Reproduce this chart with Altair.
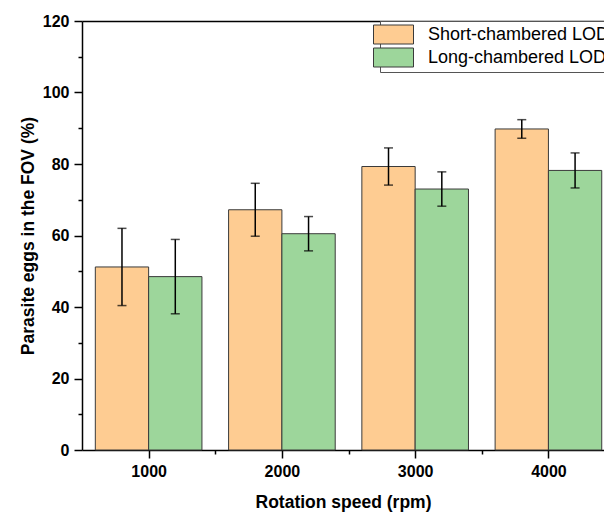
import altair as alt
import pandas as pd

rpm = [1000, 2000, 3000, 4000]
series = ["Short-chambered LOD", "Long-chambered LOD"]
short_mean = [51.2, 67.2, 79.3, 89.8]
short_sd = [10.8, 7.4, 5.2, 2.6]
long_mean = [48.5, 60.5, 73.0, 78.2]
long_sd = [10.4, 4.8, 4.8, 4.9]
colors = ["#FECC92", "#9DD69B"]

rows = []
for i, r in enumerate(rpm):
    rows.append({"rpm": r, "series": series[0], "order": 0, "mean": short_mean[i], "sd": short_sd[i]})
    rows.append({"rpm": r, "series": series[1], "order": 1, "mean": long_mean[i], "sd": long_sd[i]})
df = pd.DataFrame(rows)

FONT = "Liberation Sans"
YTITLE = "Parasite eggs in the FOV (%)"
xscale = alt.Scale(domain=[500, 4417], nice=False, zero=False)
yscale = alt.Scale(domain=[0, 120], nice=False)

base = alt.Chart(df).transform_calculate(
    x0="datum.order === 0 ? datum.rpm - 400 : datum.rpm",
    x1="datum.order === 0 ? datum.rpm : datum.rpm + 400",
    xc="datum.order === 0 ? datum.rpm - 200 : datum.rpm + 200",
    lo="datum.mean - datum.sd",
    hi="datum.mean + datum.sd",
)

xaxis = alt.Axis(
    orient="bottom",
    values=[1000, 1500, 2000, 2500, 3000, 3500, 4000],
    labelExpr="datum.value % 1000 === 0 ? datum.label : ''",
    format="d",
    tickSize={"condition": {"test": "datum.value % 1000 === 0", "value": 8}, "value": 4},
    grid=False, domainColor="black", domainWidth=1.5, tickColor="black", tickWidth=1.5,
    labelFont=FONT, labelFontSize=16, labelFontWeight="bold", labelColor="black", labelPadding=5,
    titleFont=FONT, titleFontSize=17.5, titleFontWeight="bold", titleColor="black", titlePadding=14,
)
yaxis = alt.Axis(
    values=list(range(0, 121, 10)),
    labelExpr="datum.value % 20 === 0 ? datum.label : ''",
    tickSize={"condition": {"test": "datum.value % 20 === 0", "value": 8}, "value": 4},
    grid=False, domainColor="black", domainWidth=1.5, tickColor="black", tickWidth=1.5,
    labelFont=FONT, labelFontSize=16, labelFontWeight="bold", labelColor="black", labelPadding=5,
    titleFont=FONT, titleFontSize=17.5, titleFontWeight="bold", titleColor="black", titlePadding=5,
)

legend = alt.Legend(
    title=None, orient="none", legendX=298, legendY=0,
    symbolType="M-2,-0.95H2V0.95H-2Z", symbolSize=400,
    symbolStrokeColor="#3a3a3a", symbolStrokeWidth=1, symbolOpacity=1,
    labelFont=FONT, labelFontSize=18, labelColor="black", labelOffset=24, labelLimit=0,
    strokeColor="#555555", fillColor="white", padding=3, rowPadding=0,
)

def Y(field):
    return alt.Y(field, scale=yscale, axis=yaxis, title=YTITLE)

bars = base.mark_rect(stroke="#3a3a3a", strokeWidth=1, opacity=1).encode(
    x=alt.X("x0:Q", scale=xscale, axis=xaxis, title="Rotation speed (rpm)"),
    x2="x1:Q",
    y=Y("mean:Q"),
    y2=alt.Y2(datum=0),
    color=alt.Color("series:N", scale=alt.Scale(domain=series, range=colors), legend=legend),
)
rules = base.mark_rule(color="black", strokeWidth=1.5).encode(
    x=alt.X("xc:Q", scale=xscale, axis=None), y=Y("lo:Q"), y2="hi:Q"
)
cap_lo = base.mark_tick(orient="horizontal", color="black", size=9, thickness=1.5).encode(
    x=alt.X("xc:Q", scale=xscale, axis=None), y=Y("lo:Q")
)
cap_hi = base.mark_tick(orient="horizontal", color="black", size=9, thickness=1.5).encode(
    x=alt.X("xc:Q", scale=xscale, axis=None), y=Y("hi:Q")
)
top = base.mark_point(opacity=0).encode(
    x=alt.X("xc:Q", scale=xscale, axis=alt.Axis(orient="top", labels=False, ticks=False, title=None,
                                                 grid=False, domainColor="black", domainWidth=1.5)),
    y=Y("mean:Q"),
)

chart = alt.layer(bars, rules, cap_lo, cap_hi, top).resolve_axis(x="independent").properties(
    width=522, height=429,
    autosize=alt.AutoSizeParams(type="none"),
    padding={"left": 82, "top": 21, "right": 0, "bottom": 63},
    background="white",
).configure_view(stroke=None)

chart.save("out.html", embed_options={"renderer": "svg", "actions": False})
